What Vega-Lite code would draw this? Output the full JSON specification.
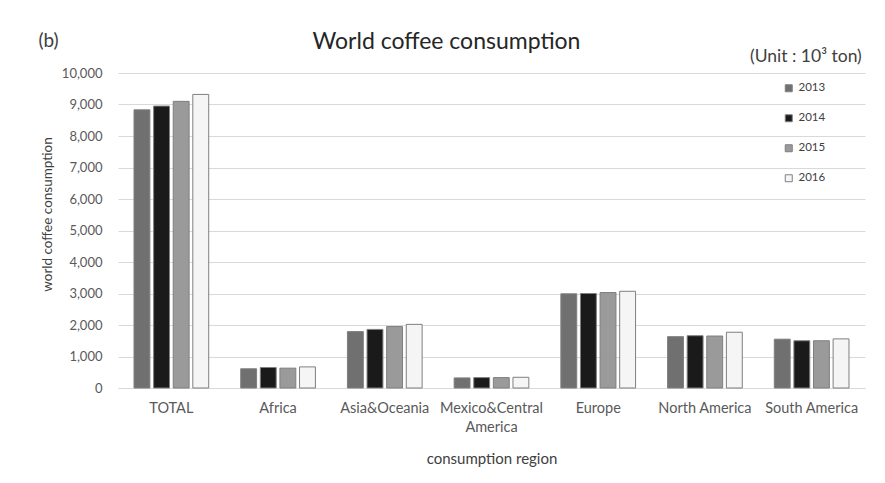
{
  "$schema": "https://vega.github.io/schema/vega-lite/v6.json",
  "width": 747,
  "height": 315,
  "autosize": {"type": "none"},
  "padding": {"left": 118, "top": 73, "right": 20, "bottom": 95},
  "background": "#ffffff",
  "config": {
    "font": "Lato",
    "view": {"stroke": null},
    "axis": {"labelFont": "Lato", "titleFont": "Lato", "labelColor": "#595959", "titleColor": "#404040", "titleFontWeight": "normal"},
    "legend": {"labelFont": "Lato", "titleFont": "Lato"}
  },
  "data": {
    "values": [
      {"region": "TOTAL", "year": "2013", "value": 8830},
      {"region": "TOTAL", "year": "2014", "value": 8950},
      {"region": "TOTAL", "year": "2015", "value": 9100},
      {"region": "TOTAL", "year": "2016", "value": 9320},
      {"region": "Africa", "year": "2013", "value": 610},
      {"region": "Africa", "year": "2014", "value": 650},
      {"region": "Africa", "year": "2015", "value": 630},
      {"region": "Africa", "year": "2016", "value": 670},
      {"region": "Asia&Oceania", "year": "2013", "value": 1790},
      {"region": "Asia&Oceania", "year": "2014", "value": 1860},
      {"region": "Asia&Oceania", "year": "2015", "value": 1950},
      {"region": "Asia&Oceania", "year": "2016", "value": 2020},
      {"region": "Mexico&Central America", "year": "2013", "value": 320},
      {"region": "Mexico&Central America", "year": "2014", "value": 330},
      {"region": "Mexico&Central America", "year": "2015", "value": 330},
      {"region": "Mexico&Central America", "year": "2016", "value": 340},
      {"region": "Europe", "year": "2013", "value": 2990},
      {"region": "Europe", "year": "2014", "value": 3000},
      {"region": "Europe", "year": "2015", "value": 3030},
      {"region": "Europe", "year": "2016", "value": 3070},
      {"region": "North America", "year": "2013", "value": 1630},
      {"region": "North America", "year": "2014", "value": 1660},
      {"region": "North America", "year": "2015", "value": 1650},
      {"region": "North America", "year": "2016", "value": 1770},
      {"region": "South America", "year": "2013", "value": 1550},
      {"region": "South America", "year": "2014", "value": 1500},
      {"region": "South America", "year": "2015", "value": 1500},
      {"region": "South America", "year": "2016", "value": 1560}
    ]
  },
  "layer": [
    {
      "mark": {"type": "bar", "stroke": "#7f7f7f", "strokeWidth": 1},
      "encoding": {
        "x": {
          "field": "region", "type": "nominal",
          "sort": ["TOTAL", "Africa", "Asia&Oceania", "Mexico&Central America", "Europe", "North America", "South America"],
          "scale": {"paddingInner": 0.3, "paddingOuter": 0.15},
          "axis": {
            "orient": "bottom", "title": "consumption region", "labelAngle": 0, "labelFontSize": 14.5,
            "labelPadding": 13, "ticks": false, "domainColor": "#d9d9d9", "grid": false,
            "labelExpr": "datum.value == 'Mexico&Central America' ? ['Mexico&Central', 'America'] : datum.value",
            "labelLineHeight": 19, "labelOverlap": false, "labelLimit": 0,
            "titleFontSize": 15, "titleY": 70, "titleBaseline": "middle"
          }
        },
        "xOffset": {"field": "year", "type": "nominal", "scale": {"paddingInner": 0.19, "paddingOuter": 0}},
        "y": {
          "field": "value", "type": "quantitative",
          "scale": {"domain": [0, 10000]},
          "axis": {
            "orient": "left", "title": "world coffee consumption",
            "values": [0, 1000, 2000, 3000, 4000, 5000, 6000, 7000, 8000, 9000, 10000],
            "format": ",.0f", "domain": false, "ticks": false, "labelPadding": 16, "labelFontSize": 13,
            "gridColor": "#d9d9d9", "titleFontSize": 13.5, "titleX": -71, "titleY": 141, "titleBaseline": "middle"
          }
        },
        "fill": {
          "field": "year", "type": "nominal",
          "scale": {"domain": ["2013", "2014", "2015", "2016"], "range": ["#707070", "#1a1a1a", "#9a9a9a", "#f5f5f5"]},
          "legend": {
            "orient": "none", "legendX": 632, "legendY": -25,
            "title": "(Unit : 10³ ton)", "titleFontSize": 17.5, "titleColor": "#404040", "titleFontWeight": "normal",
            "titlePadding": 17, "labelFontSize": 11.5, "labelColor": "#404040",
            "symbolType": "square", "symbolSize": 49, "symbolStrokeColor": "#7f7f7f", "symbolStrokeWidth": 1,
            "rowPadding": 17, "symbolOffset": 33, "labelOffset": 4
          }
        }
      }
    },
    {
      "mark": {"type": "tick", "opacity": 0},
      "encoding": {
        "x": {
          "field": "region", "type": "nominal",
          "sort": ["TOTAL", "Africa", "Asia&Oceania", "Mexico&Central America", "Europe", "North America", "South America"],
          "axis": {
            "orient": "top", "title": "World coffee consumption", "labels": false, "ticks": false, "domain": false, "grid": false,
            "titleFontSize": 23, "titleColor": "#262626", "titleX": 328, "titleY": -32, "titleBaseline": "middle", "titleAlign": "center"
          }
        },
        "y": {
          "field": "value", "type": "quantitative",
          "axis": {
            "orient": "right", "title": "(b)", "labels": false, "ticks": false, "domain": false, "grid": false,
            "titleAngle": 0, "titleFontSize": 19, "titleColor": "#404040", "titleX": -817, "titleY": -33,
            "titleBaseline": "middle", "titleAlign": "center"
          }
        }
      }
    }
  ],
  "resolve": {"axis": {"x": "independent", "y": "independent"}}
}
